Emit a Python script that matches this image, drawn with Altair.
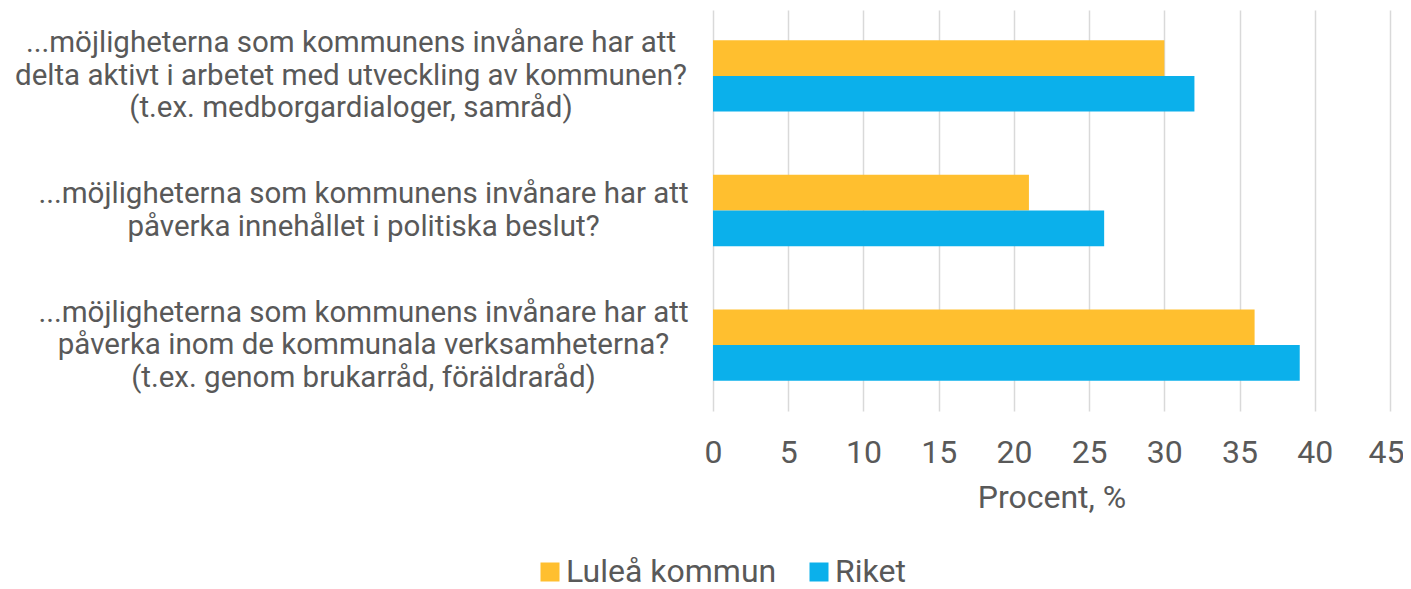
import altair as alt
import pandas as pd

categories = [
    "...möjligheterna som kommunens invånare har att|delta aktivt i arbetet med utveckling av kommunen?|(t.ex. medborgardialoger, samråd)",
    "...möjligheterna som kommunens invånare har att|påverka innehållet i politiska beslut?",
    "...möjligheterna som kommunens invånare har att|påverka inom de kommunala verksamheterna?|(t.ex. genom brukarråd, föräldraråd)",
]
series_names = ["Luleå kommun", "Riket"]
lulea = [30, 21, 36]
riket = [32, 26, 39]
x_ticks = [0, 5, 10, 15, 20, 25, 30, 35, 40, 45]
colors = ["#FFBF2F", "#0BB0EB"]

rows = []
for c, a, b in zip(categories, lulea, riket):
    rows.append({"category": c, "series": series_names[0], "value": a})
    rows.append({"category": c, "series": series_names[1], "value": b})
df = pd.DataFrame(rows)

TXT = "#595959"
FONT = "Roboto"
FIRST = "indexof(datum.value, 'delta') >= 0"
SECOND = "indexof(datum.value, 'politiska') >= 0"

chart = alt.Chart(df).mark_bar().encode(
    x=alt.X(
        "value:Q",
        scale=alt.Scale(domain=[0, 45], nice=False),
        axis=alt.Axis(
            values=x_ticks,
            title="Procent, %",
            grid=True,
            gridColor="#d9d9d9",
            gridWidth=1.5,
            domain=False,
            ticks=False,
            labelFlush=False,
            labelFontSize=32,
            labelColor=TXT,
            labelFont=FONT,
            labelPadding=26,
            labelOffset={"condition": {"test": "datum.value == 45", "value": -4}, "value": 0},
            titleFontSize=32,
            titleColor=TXT,
            titleFont=FONT,
            titleFontWeight="normal",
            titlePadding=14,
        ),
    ),
    y=alt.Y(
        "category:N",
        sort=categories,
        scale=alt.Scale(paddingInner=0.47, paddingOuter=0.225),
        axis=alt.Axis(
            title=None,
            labelExpr="split(datum.label, '|')",
            labelAlign="center",
            labelBaseline="middle",
            labelPadding={"condition": {"test": FIRST, "value": 362.5}, "value": 350},
            labelOffset={"condition": {"test": SECOND, "value": -16.5}, "value": -32.5},
            labelFontSize=29.5,
            labelLineHeight=32.5,
            labelColor=TXT,
            labelFont=FONT,
            labelLimit=0,
            ticks=False,
            domain=False,
            grid=False,
        ),
    ),
    yOffset=alt.YOffset("series:N", sort=series_names, scale=alt.Scale(paddingInner=0, paddingOuter=0)),
    color=alt.Color(
        "series:N",
        sort=series_names,
        scale=alt.Scale(domain=series_names, range=colors),
        legend=alt.Legend(
            title=None,
            orient="none",
            legendX=-179,
            legendY=546,
            direction="horizontal",
            symbolType="square",
            symbolSize=361,
            symbolStrokeWidth=0,
            labelFontSize=32,
            labelColor=TXT,
            labelFont=FONT,
            labelLimit=0,
            labelOffset=0,
            columnPadding=26,
        ),
    ),
).properties(
    width=677,
    height=401,
    autosize=alt.AutoSizeParams(type="none"),
    padding={"left": 705, "top": 2, "right": 13, "bottom": 185},
).configure_view(stroke=None)

chart.save("out.html", embed_options={"renderer": "svg", "actions": False})
